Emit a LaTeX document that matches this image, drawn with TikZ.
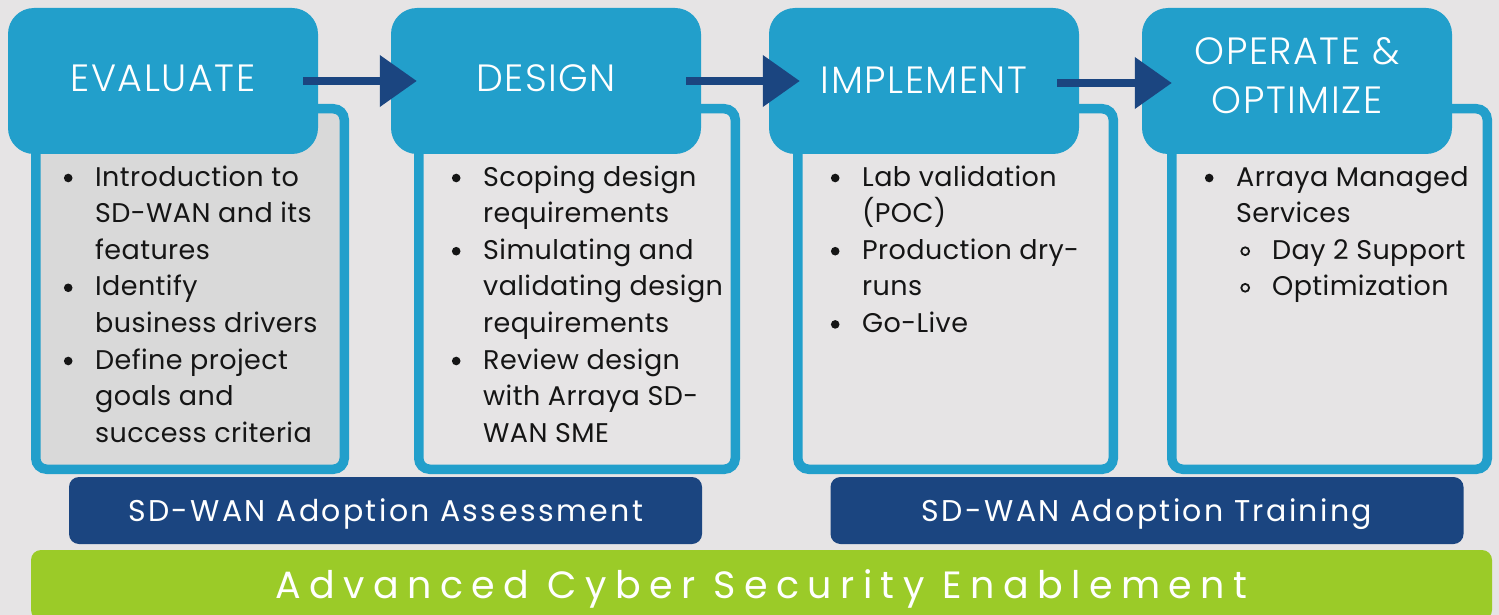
\documentclass[tikz,border=0pt]{standalone}
\usepackage{fontspec}
\setmainfont{Poppins}
\newfontfamily\bodyfont[LetterSpace=1.5]{Poppins}
\IfFontExistsTF{Poppins Light}
  {\newfontfamily\hfont[LetterSpace=4]{Poppins Light}}
  {\newfontfamily\hfont[LetterSpace=4]{Poppins}}
\newfontfamily\barfont[LetterSpace=8]{Poppins}
\newfontfamily\greenfont[LetterSpace=22]{Poppins}
\usetikzlibrary{arrows.meta}
\definecolor{bg}{HTML}{E6E4E5}
\definecolor{hblue}{HTML}{229FCB}
\definecolor{navy}{HTML}{1B4580}
\definecolor{lime}{HTML}{9BCB28}
\definecolor{graybox}{HTML}{D9D9D9}
\definecolor{ink}{HTML}{151515}
\newcommand\blt{\llap{\makebox[54pt]{\tikz[baseline=0pt]\fill[ink] (0pt,8pt) circle (4.3pt);}}}
\newcommand\sblt{\llap{\makebox[54pt]{\tikz[baseline=0pt]\draw[ink,line width=1.8pt] (0pt,8pt) circle (3.9pt);}}}
\tikzset{
  header/.style={fill=hblue, rounded corners=26pt, minimum width=310pt, minimum height=146pt,
    inner sep=0pt, text=white, font=\hfont\fontsize{38}{49}\selectfont, text height=25pt, text depth=4pt},
  detail/.style={draw=hblue, line width=9.5pt, rounded corners=11pt, minimum height=360.5pt, inner sep=0pt},
  body/.style={anchor=base west, inner sep=0pt, text=ink, font=\bodyfont\fontsize{27}{36.6}\selectfont},
  bar/.style={fill=navy, rounded corners=10pt, minimum width=633pt, minimum height=67pt, inner sep=0pt,
    text=white, font=\barfont\fontsize{30}{36}\selectfont, text height=22pt, text depth=0pt},
  greenbar/.style={fill=lime, rounded corners=10pt, minimum width=1461pt, minimum height=70pt, inner sep=0pt,
    text=white, font=\greenfont\fontsize{38}{44}\selectfont, text height=27pt, text depth=0pt},
  arr/.style={navy, line width=7.5pt, -{Triangle[length=37pt,width=50pt]}}
}
\begin{document}
\begin{tikzpicture}[x=1pt,y=-1pt]
\fill[bg] (0,0) rectangle (1499,615);
\useasboundingbox (0,0) rectangle (1499,615);
% detail boxes
\node[detail, fill=graybox, minimum width=308.5pt] (d1) at (190,289) {};
\node[detail, fill=bg, minimum width=316.5pt] (d2) at (577,289) {};
\node[detail, fill=bg, minimum width=315.5pt] (d3) at (955.5,289) {};
\node[detail, fill=bg, minimum width=315.5pt] (d4) at (1329.5,289) {};
% headers
\node[header] (h1) at (163,81) {EVALUATE};
\node[header] (h2) at (546,81) {DESIGN};
\node[header, text depth=0pt] (h3) at (924,81) {IMPLEMENT};
\node[header, text height=25pt, text depth=57pt] (h4) at (1297,81)
  {\vtop{\baselineskip=49pt\halign{\hfil#\hfil\cr OPERATE \&\cr OPTIMIZE\cr}}};
% arrows
\draw[arr] ([xshift=-15pt]h1.east) -- ([xshift=26pt]h2.west);
\draw[arr] ([xshift=-15pt]h2.east) -- ([xshift=31pt]h3.west);
\draw[arr] ([xshift=-22pt,yshift=-2pt]h3.east) -- ([xshift=30pt,yshift=-2pt]h4.west);
% body texts
\node[body] (t1) at (95,186) {\vtop{\baselineskip=36.6pt
  \hbox{\blt Introduction to}\hbox{SD-WAN and its}\hbox{features}
  \hbox{\blt Identify}\hbox{business drivers}
  \hbox{\blt Define project}\hbox{goals and}\hbox{success criteria}}};
\node[body] (t2) at (483,186) {\vtop{\baselineskip=36.6pt
  \hbox{\blt Scoping design}\hbox{requirements}
  \hbox{\blt Simulating and}\hbox{validating design}\hbox{requirements}
  \hbox{\blt Review design}\hbox{with Arraya SD-}\hbox{WAN SME}}};
\node[body] (t3) at (862,186) {\vtop{\baselineskip=36.6pt
  \hbox{\blt Lab validation}\hbox{(POC)}
  \hbox{\blt Production dry-}\hbox{runs}
  \hbox{\blt Go-Live}}};
\node[body] (t4) at (1236,186) {\vtop{\baselineskip=36.6pt
  \hbox{\blt Arraya Managed}\hbox{Services}
  \hbox{\hskip36pt\sblt Day 2 Support}
  \hbox{\hskip36pt\sblt Optimization}}};
% bars
\node[bar] (b1) at (385.5,510.5) {SD-WAN Adoption Assessment};
\node[bar] (b2) at (1147,510.5) {SD-WAN Adoption Training};
\node[greenbar] (g) at (761.5,585) {Advanced Cyber Security Enablement};
\end{tikzpicture}
\end{document}
